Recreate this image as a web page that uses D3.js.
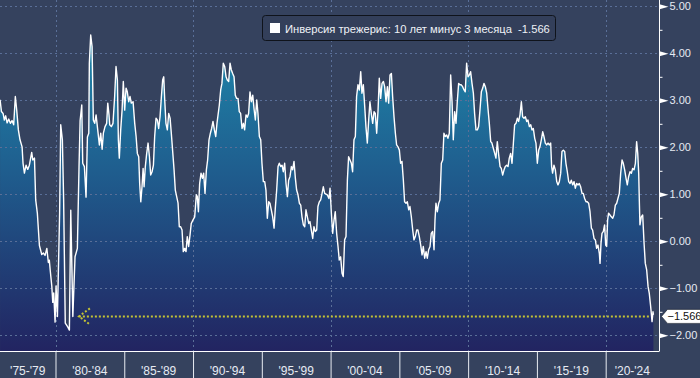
<!DOCTYPE html>
<html>
<head>
<meta charset="utf-8">
<script src="https://cdn.jsdelivr.net/npm/d3@7"></script>
<style>
  html, body { margin: 0; padding: 0; background: #35425e; }
  svg { display: block; font-family: "Liberation Sans", Arial, sans-serif; }
</style>
</head>
<body>
<svg id="chart"></svg>
<script>
//chart size
const width = 700, height = 378;
const plotW = 659, plotH = 351;

//series: decimal year + spread (10y minus 3m)
const dates = [
  1975.97,1976.07,1976.19,1976.28,1976.38,1976.48,1976.60,1976.72,1976.84,1976.96,
  1977.08,1977.18,1977.30,1977.42,1977.57,1977.64,1977.74,1977.86,1977.98,1978.10,
  1978.27,1978.35,1978.47,1978.56,1978.68,1978.83,1979.00,1979.12,1979.24,1979.37,
  1979.48,1979.55,1979.61,1979.73,1979.80,1979.87,1979.97,1980.04,1980.14,1980.30,
  1980.38,1980.50,1980.59,1980.71,1980.89,1981.01,1981.11,1981.26,1981.42,1981.59,
  1981.71,1981.79,1981.91,1981.98,1982.10,1982.22,1982.32,1982.42,1982.46,1982.56,
  1982.66,1982.75,1982.85,1982.95,1983.07,1983.19,1983.29,1983.39,1983.48,1983.60,
  1983.72,1983.80,1983.89,1983.94,1984.06,1984.18,1984.30,1984.40,1984.50,1984.57,
  1984.64,1984.74,1984.84,1984.93,1985.03,1985.13,1985.22,1985.32,1985.42,1985.51,
  1985.64,1985.76,1985.86,1985.95,1986.05,1986.12,1986.20,1986.29,1986.37,1986.44,
  1986.53,1986.63,1986.73,1986.83,1986.92,1987.02,1987.12,1987.21,1987.31,1987.41,
  1987.50,1987.60,1987.70,1987.79,1987.87,1987.94,1988.03,1988.13,1988.23,1988.33,
  1988.42,1988.52,1988.62,1988.71,1988.81,1988.91,1989.00,1989.10,1989.20,1989.29,
  1989.39,1989.49,1989.58,1989.68,1989.78,1989.87,1989.99,1990.12,1990.24,1990.31,
  1990.39,1990.48,1990.58,1990.68,1990.77,1990.87,1990.97,1991.06,1991.16,1991.26,
  1991.35,1991.45,1991.55,1991.65,1991.74,1991.91,1992.01,1992.10,1992.20,1992.30,
  1992.40,1992.49,1992.59,1992.69,1992.78,1992.88,1992.98,1993.07,1993.17,1993.27,
  1993.36,1993.46,1993.56,1993.66,1993.75,1993.85,1993.95,1994.04,1994.14,1994.24,
  1994.34,1994.43,1994.53,1994.63,1994.72,1994.82,1994.92,1995.01,1995.11,1995.21,
  1995.30,1995.40,1995.50,1995.59,1995.69,1995.79,1995.89,1995.98,1996.08,1996.18,
  1996.27,1996.37,1996.47,1996.56,1996.66,1996.76,1996.86,1996.95,1997.05,1997.15,
  1997.24,1997.34,1997.44,1997.53,1997.63,1997.73,1997.83,1997.92,1998.02,1998.12,
  1998.21,1998.31,1998.41,1998.50,1998.60,1998.70,1998.79,1998.89,1998.99,1999.08,
  1999.18,1999.28,1999.38,1999.47,1999.57,1999.76,1999.88,1999.96,2000.05,2000.15,
  2000.25,2000.34,2000.44,2000.54,2000.63,2000.73,2000.83,2000.92,2001.02,2001.12,
  2001.22,2001.31,2001.41,2001.51,2001.60,2001.70,2001.80,2001.89,2001.99,2002.09,
  2002.19,2002.28,2002.38,2002.48,2002.57,2002.67,2002.77,2002.86,2002.96,2003.06,
  2003.16,2003.25,2003.35,2003.45,2003.54,2003.64,2003.74,2003.84,2003.93,2004.03,
  2004.13,2004.22,2004.32,2004.42,2004.51,2004.61,2004.71,2004.80,2004.90,2005.00,
  2005.09,2005.19,2005.29,2005.38,2005.48,2005.58,2005.68,2005.77,2005.87,2005.97,
  2006.06,2006.16,2006.26,2006.35,2006.45,2006.55,2006.65,2006.74,2006.84,2006.94,
  2007.03,2007.13,2007.23,2007.32,2007.42,2007.52,2007.59,2007.66,2007.76,2007.86,
  2007.95,2008.05,2008.15,2008.24,2008.34,2008.44,2008.53,2008.63,2008.73,2008.83,
  2008.92,2009.02,2009.12,2009.21,2009.31,2009.41,2009.50,2009.60,2009.70,2009.79,
  2009.89,2009.99,2010.09,2010.18,2010.28,2010.38,2010.47,2010.57,2010.67,2010.76,
  2010.86,2010.96,2011.06,2011.15,2011.25,2011.35,2011.44,2011.54,2011.64,2011.73,
  2011.83,2011.93,2012.02,2012.12,2012.22,2012.32,2012.41,2012.51,2012.61,2012.70,
  2012.80,2012.90,2012.99,2013.09,2013.19,2013.29,2013.38,2013.48,2013.58,2013.67,
  2013.77,2013.87,2013.96,2014.06,2014.16,2014.26,2014.35,2014.45,2014.55,2014.64,
  2014.74,2014.84,2014.93,2015.03,2015.13,2015.22,2015.32,2015.42,2015.51,2015.61,
  2015.71,2015.81,2015.90,2016.00,2016.07,2016.14,2016.24,2016.34,2016.44,2016.53,
  2016.63,2016.73,2016.82,2016.92,2017.02,2017.11,2017.21,2017.31,2017.41,2017.50,
  2017.60,2017.70,2017.79,2017.89,2017.99,2018.08,2018.18,2018.28,2018.37,2018.47,
  2018.57,2018.66,2018.76,2018.86,2018.96,2019.05,2019.15,2019.25,2019.34,2019.44,
  2019.54,2019.59,2019.66,2019.73,2019.83,2019.92,2020.00,2020.07,2020.14,2020.21,
  2020.31,2020.41,2020.51,2020.60,2020.70,2020.80,2020.89,2020.99,2021.09,2021.19,
  2021.28,2021.38,2021.48,2021.57,2021.67,2021.77,2021.87,2021.96,2022.06,2022.16,
  2022.25,2022.33,2022.40,2022.45,2022.49,2022.59,2022.69,2022.79,2022.88,2022.98,
  2023.08,2023.17,2023.27,2023.37,2023.44,2023.47
];
const spread = [
  3.01,2.76,2.72,2.58,2.67,2.52,2.60,2.51,2.57,2.48,
  3.08,2.79,2.37,2.16,2.01,1.66,1.45,1.62,1.53,1.62,
  1.89,1.73,1.77,0.88,0.60,-0.09,-0.28,-0.25,-0.30,-0.15,
  -0.45,-0.40,-0.60,-0.95,-1.30,-1.10,-1.72,-0.95,-1.60,0.60,
  2.48,2.16,0.90,-1.74,-1.82,-1.89,0.66,-1.60,-0.33,-0.15,
  1.58,2.57,2.90,1.66,1.59,0.94,2.22,2.30,3.79,4.39,
  4.14,2.58,2.51,2.69,2.37,2.05,2.30,1.96,2.30,2.44,
  2.51,2.94,2.69,2.48,2.44,2.51,3.08,3.72,3.43,2.16,
  1.77,2.37,2.79,3.40,2.79,3.26,3.18,2.97,3.08,2.94,
  2.97,2.51,2.23,1.87,1.80,1.23,0.84,1.16,1.55,1.16,
  1.59,1.87,2.09,1.80,1.41,1.48,1.62,2.23,2.62,2.58,
  2.40,2.65,3.08,3.43,3.50,3.01,2.51,2.37,2.72,2.62,
  2.30,1.91,1.52,1.09,0.95,0.81,0.31,0.31,0.24,-0.22,
  -0.15,-0.22,0.10,-0.11,0.13,0.38,0.45,0.52,0.99,0.95,
  0.63,1.23,1.45,1.34,1.45,1.02,1.52,1.73,2.16,2.30,
  2.40,2.55,2.37,2.23,2.51,2.90,3.22,3.36,3.79,3.72,
  3.50,3.43,3.40,3.79,3.65,3.57,3.50,3.11,3.04,3.04,
  2.76,2.72,2.40,2.51,2.37,2.69,2.64,2.72,3.18,2.97,
  3.11,2.83,2.58,3.01,2.72,2.23,2.16,1.66,1.27,1.27,
  1.09,0.49,0.84,0.81,0.67,0.52,0.28,0.70,1.09,1.59,
  1.66,1.59,1.62,1.48,1.66,1.23,0.95,1.30,1.38,1.59,
  1.52,1.70,1.34,1.09,0.99,0.81,0.77,0.52,0.35,0.31,
  0.67,0.52,0.38,0.42,0.24,0.06,0.31,0.21,0.24,0.74,
  0.84,0.88,1.02,1.16,1.02,0.99,0.91,1.13,0.63,0.17,
  0.45,0.63,0.17,-0.11,-0.40,-0.33,-0.68,-0.75,0.03,0.10,
  1.30,1.80,1.73,1.66,1.48,2.16,2.23,3.08,3.33,3.22,
  3.61,3.15,3.33,2.87,2.44,2.09,2.58,2.97,2.72,2.51,
  2.76,2.72,2.30,2.79,3.47,3.04,3.36,3.40,3.29,2.97,
  3.29,2.94,3.54,3.57,3.08,2.65,2.30,2.05,2.01,1.94,
  1.66,1.70,1.30,0.84,0.81,0.84,0.67,0.74,0.52,0.24,
  0.03,0.10,0.24,0.24,0.10,-0.08,-0.29,-0.11,-0.36,-0.22,
  -0.36,-0.18,-0.11,0.17,0.21,-0.18,0.45,0.81,0.63,0.81,
  0.88,1.66,1.73,2.30,2.23,2.26,2.19,2.30,3.54,2.97,
  2.16,2.76,2.51,2.97,3.36,3.33,3.33,3.29,3.22,3.18,
  3.79,3.50,3.54,3.61,3.36,3.15,2.72,2.37,2.37,2.44,
  2.79,3.18,3.26,3.36,3.29,3.15,2.83,2.51,2.12,2.09,
  1.98,1.87,1.77,2.12,1.84,1.59,1.55,1.41,1.52,1.59,
  1.62,1.59,1.77,1.87,1.66,2.09,2.48,2.51,2.62,2.55,
  2.69,2.97,2.65,2.62,2.65,2.55,2.58,2.44,2.48,2.37,
  2.40,2.19,2.09,1.66,1.94,2.01,2.16,2.33,2.23,2.09,
  2.05,2.09,2.05,2.09,1.59,1.45,1.62,1.52,1.27,1.20,
  1.27,1.45,1.91,1.94,1.91,1.66,1.48,1.27,1.23,1.30,
  1.20,1.27,1.13,1.23,1.20,1.23,1.16,1.02,1.02,0.91,
  0.84,0.84,0.81,0.63,0.28,0.24,0.06,0.03,-0.15,-0.08,
  -0.26,-0.47,-0.04,0.17,0.21,0.35,-0.08,-0.11,0.45,0.60,
  0.56,0.52,0.49,0.56,0.77,0.81,0.91,1.02,1.45,1.73,
  1.66,1.52,1.34,1.20,1.38,1.48,1.45,1.55,1.52,1.66,
  2.12,1.87,1.45,0.81,0.35,0.52,0.56,-0.04,-0.47,-0.61,
  -0.96,-1.11,-1.39,-1.71,-1.50,-1.566
];
const lastValue = -1.566;
const refStart = 1981.70; //left end of the dotted reference line
const refEnd = 2023.20;

//axes
const yTicks = [5, 4, 3, 2, 1, 0, -1, -2];
const yMinor = [4.5, 3.5, 2.5, 1.5, 0.5, -0.5, -1.5];
const periodStarts = [1975, 1980, 1985, 1990, 1995, 2000, 2005, 2010, 2015, 2020];
const periodLabels = ["'75-'79", "'80-'84", "'85-'89", "'90-'94", "'95-'99", "'00-'04", "'05-'09", "'10-'14", "'15-'19", "'20-'24"];
const gridYears = [1980, 1990, 2000, 2010, 2020];
const legendText = "Инверсия трежерис: 10 лет минус 3 месяца  -1.566";

const data = dates.map((d, i) => ({ t: d, v: spread[i] }));

const svg = d3.select("#chart")
    .attr("width", width)
    .attr("height", height);

const x = d3.scaleLinear().domain([1975.965, 2023.876]).range([0, plotW]);
const y = d3.scaleLinear().domain([-2.334, 5.134]).range([plotH, 0]);

//background
svg.append("rect").attr("width", width).attr("height", height).attr("fill", "#35425e");

//gradient for the area
const defs = svg.append("defs");
const grad = defs.append("linearGradient")
    .attr("id", "fillGrad")
    .attr("gradientUnits", "userSpaceOnUse")
    .attr("x1", 0).attr("x2", 0).attr("y1", 0).attr("y2", plotH);
grad.append("stop").attr("offset", "0%").attr("stop-color", "#1e92b2");
grad.append("stop").attr("offset", "50%").attr("stop-color", "#1f5c8d");
grad.append("stop").attr("offset", "100%").attr("stop-color", "#222461");

//area + line
const area = d3.area()
    .x(d => x(d.t))
    .y0(plotH)
    .y1(d => y(d.v));
const line = d3.line()
    .x(d => x(d.t))
    .y(d => y(d.v));

svg.append("path")
    .datum(data)
    .attr("d", area)
    .attr("fill", "url(#fillGrad)");

//grid
const grid = svg.append("g").attr("stroke", "#5a6f98").attr("stroke-width", 1).attr("stroke-dasharray", "2,3");
grid.selectAll(".gy")
    .data(yTicks)
    .join("line")
    .attr("x1", 0).attr("x2", plotW)
    .attr("y1", d => Math.round(y(d)) + 0.5).attr("y2", d => Math.round(y(d)) + 0.5);
grid.selectAll(".gx")
    .data(gridYears)
    .join("line")
    .attr("y1", 0).attr("y2", plotH)
    .attr("x1", d => Math.round(x(d)) + 0.5).attr("x2", d => Math.round(x(d)) + 0.5);

svg.append("path")
    .datum(data)
    .attr("d", line)
    .attr("fill", "none")
    .attr("stroke", "#ffffff")
    .attr("stroke-width", 1.4)
    .attr("stroke-linejoin", "round");

//dotted reference line at the last value with arrow head
const refY = y(lastValue) + 1.5;
const ref = svg.append("g")
    .attr("stroke", "#c3c334")
    .attr("fill", "none")
    .attr("stroke-width", 2)
    .attr("stroke-dasharray", "2,2");
ref.append("line")
    .attr("x1", x(refStart)).attr("x2", x(refEnd))
    .attr("y1", refY).attr("y2", refY);
ref.append("path")
    .attr("d", `M${x(refStart) + 11},${refY - 8} L${x(refStart)},${refY} L${x(refStart) + 11},${refY + 8}`);

//y axis on the right
const yAxis = svg.append("g")
    .attr("transform", `translate(${plotW + 0.5},0)`)
    .call(d3.axisRight(y).tickValues(yTicks).tickFormat(d3.format(".2f")).tickSize(0).tickPadding(10));
yAxis.select(".domain").attr("stroke", "#ffffff").attr("d", `M0,0V${plotH}`);
yAxis.selectAll(".tick text")
    .attr("fill", "#e6ebf3")
    .attr("font-size", 11)
    .attr("font-family", "Liberation Sans, Arial, sans-serif");
yAxis.selectAll(".tick")
    .append("path")
    .attr("d", "M0,-2.5 L9,0 L0,2.5 Z")
    .attr("fill", "#ffffff");

const yMinorAxis = svg.append("g")
    .attr("transform", `translate(${plotW + 0.5},0)`)
    .call(d3.axisRight(y).tickValues(yMinor).tickFormat("").tickSize(3));
yMinorAxis.select(".domain").remove();
yMinorAxis.selectAll(".tick line").attr("stroke", "#ffffff");

//x axis: period separators + labels
const xAxis = svg.append("g")
    .attr("transform", `translate(0,${plotH + 0.5})`)
    .call(d3.axisBottom(x).tickValues(periodStarts.slice(1)).tickFormat("").tickSize(height - plotH));
xAxis.select(".domain").attr("stroke", "#ffffff").attr("d", `M0,0H${plotW + 0.5}`);
xAxis.selectAll(".tick line").attr("stroke", "#e8ecf2");

svg.append("g")
    .selectAll("text")
    .data(periodStarts)
    .join("text")
    .attr("x", (d) => {
        const a = Math.max(0, x(d)), b = Math.min(plotW, x(d + 5));
        return (a + b) / 2;
    })
    .attr("y", 375)
    .attr("text-anchor", "middle")
    .attr("fill", "#e6ebf3")
    .attr("font-size", 12)
    .text((d, i) => periodLabels[i]);

//last value tag
const tagY = y(lastValue) + 1.5;
svg.append("path")
    .attr("d", `M${plotW + 2.5},${tagY} L${plotW + 8.5},${tagY - 7} H${width + 2} V${tagY + 7} H${plotW + 8.5} Z`)
    .attr("fill", "#ffffff")
    .attr("stroke", "#1a1f2b")
    .attr("stroke-width", 0.6);
svg.append("text")
    .attr("x", plotW + 8.5)
    .attr("y", tagY + 4)
    .attr("fill", "#111111")
    .attr("font-size", 11)
    .text(d3.format(".3f")(lastValue));

//legend
const legend = svg.append("g").attr("transform", "translate(262.5,15.5)");
legend.append("rect")
    .attr("width", 293).attr("height", 25).attr("rx", 3)
    .attr("fill", "#333f5a")
    .attr("stroke", "#0f131b");
legend.append("rect")
    .attr("x", 7.5).attr("y", 7.5).attr("width", 10).attr("height", 10)
    .attr("fill", "#ffffff");
legend.append("text")
    .attr("x", 22.5).attr("y", 17)
    .attr("fill", "#eef1f6")
    .attr("font-size", 11.2)
    .style("white-space", "pre")
    .text(legendText);
</script>
</body>
</html>
